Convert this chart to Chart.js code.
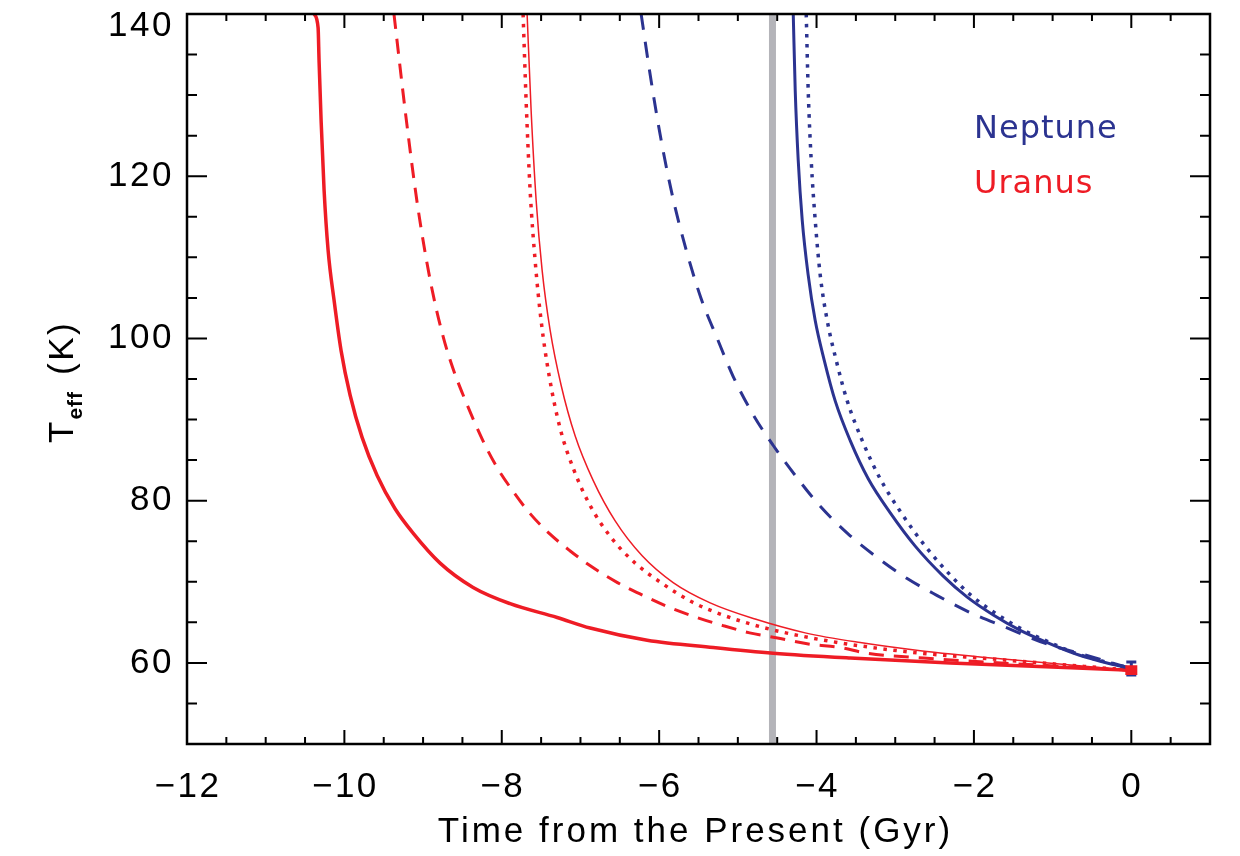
<!DOCTYPE html>
<html>
<head>
<meta charset="utf-8">
<script src="https://cdn.jsdelivr.net/npm/chart.js@4.4.1/dist/chart.umd.min.js"></script>
<style>
  html, body { margin: 0; padding: 0; background: #fff; }
  #wrap { width: 1240px; height: 856px; }
</style>
</head>
<body>
<div id="wrap"><canvas id="teffChart" width="1240" height="856"></canvas></div>
<script>
// cooling tracks, time in Gyr before present, Teff in K
var uranusSolidTime = [-10.385, -10.334, -10.322, -10.296, -10.258, -10.207, -10.131, -10.042, -9.927, -9.775, -9.584, -9.356, -9.127, -8.784, -8.364, -7.894, -7.296, -6.877, -6.152, -5.313, -4.551, -3.572, -2.301, 0];
var uranusSolidTeff = [140, 138.3, 134.3, 126.9, 118.3, 110.9, 104.7, 98.5, 93.0, 87.8, 83.1, 79.0, 76.0, 72.3, 69.3, 67.3, 65.6, 64.3, 62.8, 61.9, 61.2, 60.6, 60.0, 59.1];

var uranusDashTime = [-9.37, -9.22, -9.07, -8.91, -8.75, -8.62, -8.49, -8.24, -8.06, -7.86, -7.64, -7.39, -7.13, -6.88, -6.53, -6.20, -5.86, -5.52, -5.19, -4.85, -4.46, -4.08, -3.70, -3.36, -2.64, 0];
var uranusDashTeff = [140, 127.5, 116.4, 107.2, 100.4, 96.3, 93.0, 87.4, 84.1, 81.2, 78.4, 75.9, 73.8, 72.0, 69.9, 68.3, 66.8, 65.6, 64.6, 63.7, 63.0, 62.3, 61.9, 61.2, 60.6, 59.1];

var uranusDotTime = [-7.729, -7.691, -7.640, -7.576, -7.500, -7.398, -7.258, -7.080, -6.877, -6.623, -6.305, -5.962, -5.580, -5.161, -4.652, -4.080, -3.445, -2.682, -1.665, 0];
var uranusDotTeff = [140, 129.4, 118.3, 109.6, 102.2, 95.4, 88.9, 83.7, 79.4, 75.6, 72.3, 69.8, 67.5, 65.8, 64.3, 63.1, 62.1, 61.2, 60.4, 59.1];

var uranusThinTime = [-7.678, -7.627, -7.563, -7.487, -7.385, -7.245, -7.068, -6.839, -6.559, -6.216, -5.822, -5.352, -4.780, -4.144, -3.445, -2.682, -1.665, 0];
var uranusThinTeff = [140, 128.1, 117.0, 108.4, 101.0, 94.2, 88.0, 82.5, 77.5, 73.2, 69.9, 67.4, 65.4, 63.7, 62.5, 61.5, 60.5, 59.1];

var neptuneSolidTime = [-4.296, -4.271, -4.233, -4.182, -4.106, -4.017, -3.902, -3.763, -3.572, -3.343, -3.063, -2.746, -2.390, -2.085, -1.754, -1.411, -1.068, -0.737, -0.394, 0];
var neptuneSolidTeff = [140, 130.6, 122.0, 114.6, 107.8, 102.2, 97.3, 92.3, 87.4, 82.7, 78.5, 74.4, 70.7, 68.1, 65.9, 64.0, 62.5, 61.2, 60.2, 59.3];

var neptuneDashTime = [-6.229, -6.114, -5.987, -5.834, -5.656, -5.466, -5.262, -5.059, -4.805, -4.550, -4.246, -3.953, -3.610, -3.229, -2.848, -2.466, -2.047, -1.602, -1.093, -0.521, 0];
var neptuneDashTeff = [140, 132.5, 125.1, 117.7, 110.9, 104.9, 100.0, 95.3, 90.6, 86.8, 82.8, 79.3, 76.0, 73.0, 70.4, 68.3, 66.2, 64.4, 62.4, 60.8, 59.3];

var neptuneDotTime = [-4.131, -4.106, -4.068, -4.017, -3.953, -3.864, -3.750, -3.610, -3.419, -3.191, -2.924, -2.619, -2.288, -2.008, -1.691, -1.360, -1.030, -0.712, 0];
var neptuneDotTeff = [140, 130.6, 122.0, 114.6, 107.8, 102.2, 97.3, 92.3, 87.4, 82.7, 78.5, 74.4, 70.7, 68.1, 65.9, 64.0, 62.5, 61.2, 59.3];

// present-day measurements
var presentTeff = { neptune: 59.3, uranus: 59.1 };
var presentErr = { neptune: 0.8, uranus: 0.3 };

var solarSystemAge = -4.56;

var xTicks = [-12, -10, -8, -6, -4, -2, 0];
var yTicks = [60, 80, 100, 120, 140];

var RED = '#ee1c25';
var BLUE = '#2b3390';
var GREY = '#b4b4b9';
var TICK_FONT = '"Liberation Sans", Arial, sans-serif';

function pts(xs, ys) {
  return xs.map(function(v, i) { return { x: v, y: ys[i] }; });
}

function track(xs, ys, color, width, dash) {
  return {
    data: pts(xs, ys),
    borderColor: color,
    borderWidth: width,
    borderDash: dash || [],
    borderCapStyle: 'butt',
    pointRadius: 0,
    fill: false,
    cubicInterpolationMode: 'monotone'
  };
}

// IDL style box: inward ticks on all four sides, labels, titles, error bars
var idlAxes = {
  id: 'idlAxes',
  afterDatasetsDraw: function(chart) {
    var ctx = chart.ctx, a = chart.chartArea;
    var xs = chart.scales.x, ys = chart.scales.y;
    ctx.save();

    // error bars at t = 0
    var x0 = xs.getPixelForValue(0);
    [['neptune', BLUE, 3, 5], ['uranus', RED, 5, 6]].forEach(function(e) {
      var v = presentTeff[e[0]], d = presentErr[e[0]];
      var top = ys.getPixelForValue(v + d), bot = ys.getPixelForValue(v - d);
      ctx.strokeStyle = e[1];
      ctx.lineWidth = e[2];
      ctx.beginPath();
      ctx.moveTo(x0, top); ctx.lineTo(x0, bot);
      ctx.moveTo(x0 - e[3], top); ctx.lineTo(x0 + e[3], top);
      ctx.moveTo(x0 - e[3], bot); ctx.lineTo(x0 + e[3], bot);
      ctx.stroke();
    });

    ctx.strokeStyle = '#000';
    ctx.lineWidth = 2.5;
    ctx.strokeRect(a.left, a.top, a.right - a.left, a.bottom - a.top);

    ctx.lineWidth = 2;
    ctx.beginPath();
    for (var t = -12; t <= 1.0001; t += 0.5) {
      var px = xs.getPixelForValue(t);
      var len = xTicks.indexOf(Math.round(t * 2) / 2) >= 0 ? 14 : 7;
      ctx.moveTo(px, a.bottom); ctx.lineTo(px, a.bottom - len);
      ctx.moveTo(px, a.top); ctx.lineTo(px, a.top + len);
    }
    for (var k = 50; k <= 140; k += 5) {
      var py = ys.getPixelForValue(k);
      var ylen = yTicks.indexOf(k) >= 0 ? 20 : 10;
      ctx.moveTo(a.left, py); ctx.lineTo(a.left + ylen, py);
      ctx.moveTo(a.right, py); ctx.lineTo(a.right - ylen, py);
    }
    ctx.stroke();

    ctx.fillStyle = '#000';
    ctx.font = '35px ' + TICK_FONT;
    ctx.letterSpacing = '2.5px';
    ctx.textBaseline = 'middle';
    ctx.textAlign = 'center';
    xTicks.forEach(function(v) {
      var s = v < 0 ? '\u2212' + Math.abs(v) : String(v);
      ctx.fillText(s, xs.getPixelForValue(v) + 1, a.bottom + 43);
    });
    ctx.textAlign = 'right';
    yTicks.forEach(function(v) {
      var py = ys.getPixelForValue(v);
      if (v === 140) py += 12;
      ctx.fillText(String(v), a.left - 13, py);
    });

    // x title
    ctx.textAlign = 'center';
    ctx.textBaseline = 'alphabetic';
    ctx.font = '35px ' + TICK_FONT;
    ctx.letterSpacing = '3px';
    ctx.fillText('Time from the Present (Gyr)', (a.left + a.right) / 2 - 3, 842);

    // y title, rotated: T_eff (K)
    ctx.translate(73, 443);
    ctx.rotate(-Math.PI / 2);
    ctx.textAlign = 'left';
    ctx.letterSpacing = '0px';
    ctx.font = '35px ' + TICK_FONT;
    ctx.fillText('T', 0, 0);
    var w = ctx.measureText('T').width;
    ctx.font = 'bold 21px ' + TICK_FONT;
    ctx.letterSpacing = '1px';
    ctx.fillText('eff', w + 2, 9);
    w += 2 + ctx.measureText('eff').width;
    ctx.font = '35px ' + TICK_FONT;
    ctx.letterSpacing = '2.5px';
    ctx.fillText('(K)', w + 16, 0);
    ctx.restore();

    // planet labels
    ctx.save();
    ctx.font = '32px "DejaVu Sans", sans-serif';
    ctx.letterSpacing = '1px';
    ctx.textBaseline = 'alphabetic';
    ctx.textAlign = 'left';
    ctx.fillStyle = BLUE;
    ctx.fillText('Neptune', 974, 138);
    ctx.fillStyle = RED;
    ctx.fillText('Uranus', 974, 193);
    ctx.restore();
  }
};

var chartElem = document.getElementById('teffChart');

var config = {
  type: 'line',
  data: {
    datasets: [
      track(neptuneDotTime, neptuneDotTeff, BLUE, 3.5, [3.5, 6.5]),
      track(neptuneSolidTime, neptuneSolidTeff, BLUE, 3),
      track(neptuneDashTime, neptuneDashTeff, BLUE, 3, [16, 12]),
      track(uranusThinTime, uranusThinTeff, RED, 1.5),
      track(uranusDotTime, uranusDotTeff, RED, 3.5, [3.5, 6.5]),
      track(uranusDashTime, uranusDashTeff, RED, 3, [15, 10]),
      track(uranusSolidTime, uranusSolidTeff, RED, 3.5),
      {
        data: pts([solarSystemAge, solarSystemAge], [50, 140]),
        borderColor: GREY,
        borderWidth: 7,
        pointRadius: 0,
        fill: false
      }
    ]
  },
  options: {
    responsive: false,
    animation: false,
    events: [],
    layout: { padding: { left: 187, right: 30, top: 14, bottom: 112 } },
    plugins: { legend: { display: false }, tooltip: { enabled: false } },
    scales: {
      x: { type: 'linear', min: -12, max: 1, display: false },
      y: { type: 'linear', min: 50, max: 140, display: false }
    }
  },
  plugins: [idlAxes]
};

var graph = new Chart(chartElem, config);
</script>
</body>
</html>
